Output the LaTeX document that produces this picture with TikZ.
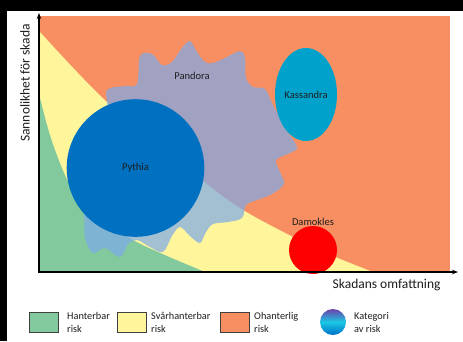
\documentclass[tikz,border=0pt]{standalone}
\usepackage{fontspec}
\setmainfont{Carlito}
\usepackage{xcolor}
\usetikzlibrary{arrows.meta,positioning,shapes.geometric}
\definecolor{riskgreen}{RGB}{130,201,157}
\definecolor{riskyellow}{RGB}{255,245,155}
\definecolor{riskorange}{RGB}{247,143,98}
\definecolor{pandoracol}{RGB}{125,170,235}
\definecolor{pythiacol}{RGB}{0,112,192}
\definecolor{kassandracol}{RGB}{0,162,204}
\definecolor{textgray}{RGB}{30,30,30}
\definecolor{legpurple}{RGB}{110,65,170}
\definecolor{legcyan}{RGB}{25,200,228}
\definecolor{legblue}{RGB}{0,110,200}
\tikzset{
  axisline/.style={line width=1.2pt, -{Stealth[length=6pt,width=4.5pt]}},
  axislabel/.style={font=\fontsize{13.5}{15}\selectfont, text=textgray},
  riskname/.style={font=\fontsize{10.5}{12}\selectfont, text=textgray},
  legbox/.style={draw=black!75, line width=0.8pt, minimum width=29pt, minimum height=20pt, inner sep=0pt},
  legtext/.style={font=\fontsize{10.3}{13}\selectfont, align=left, text=textgray, inner sep=0pt, anchor=west},
}

\begin{document}
\begin{tikzpicture}[x=1pt,y=-1pt]
  \useasboundingbox (0,0) rectangle (463,341);
  \fill[white] (0,0) rectangle (463,341);
  \fill[black] (0,0) rectangle (463,11);
  \fill[black] (0,0) rectangle (7,341);
  % Risk zones
  \fill[riskorange] (40,16) rectangle (450,272);
  \fill[riskyellow] plot[smooth] coordinates {(40,32) (107,102) (203,181) (243,210) (293,237) (333,256) (373,272)} -- (40,272) -- cycle;
  \fill[riskgreen] plot[smooth] coordinates {(40,98) (47,125) (55,150) (70,185) (95,215) (133,240) (167,256) (205,272)} -- (40,272) -- cycle;
  % Pandora
  \fill[pandoracol, fill opacity=0.7] plot[smooth cycle, tension=0.55] coordinates {
    (190,41) (197,52) (205,62) (213,63) (225,58) (240,51) (245,58) (246,78)
    (253,87) (265,89) (273,105) (285,128) (297,147) (290,153) (276,160) (280,172)
    (284,184) (272,194) (257,200) (246,205) (242,218) (228,222) (213,224) (206,232)
    (200,243) (190,236) (180,227) (172,236) (163,252) (150,247) (137,240) (128,244)
    (120,257) (105,248) (93,253) (85,238) (84,215) (80,180) (95,130) (107,110)
    (107,90) (125,86) (137,84) (140,56) (152,54) (162,65) (172,62) (182,48)};
  \node[riskname] (pandora) at (192,76) {Pandora};
  % Categories
  \node[circle, fill=pythiacol, minimum size=137.6pt, inner sep=0pt, riskname] (pythia) at (135.5,168) {Pythia};
  \node[ellipse, fill=kassandracol, minimum width=62pt, minimum height=93pt, inner sep=0pt, riskname] (kassandra) at (306,94.5) {Kassandra};
  \node[circle, fill=red, minimum size=48pt, inner sep=0pt] (damokles) at (313,250) {};
  \node[riskname, above=0pt of damokles, inner sep=0pt] (damoklesname) {Damokles};
  % Axes
  \coordinate (origin) at (39,272);
  \coordinate (ytop) at (39,13);
  \coordinate (xend) at (458,272);
  \draw[axisline] ([yshift=0.6pt]origin) -- (ytop);
  \draw[axisline] ([xshift=-0.6pt]origin) -- (xend);
  \node[axislabel, rotate=90] (ylabel) at (25,83) {Sannolikhet för skada};
  \node[axislabel, anchor=east] (xlabel) at (444,285) {Skadans omfattning};
  % Legend
  \foreach \x/\tx/\c/\t [count=\i] in {44/67/riskgreen/Hanterbar, 131.5/151/riskyellow/Svårhanterbar, 235/254/riskorange/Ohanterlig} {
    \node[legbox, fill=\c] (legbox\i) at (\x,322) {};
    \node[legtext] (legtext\i) at (\tx,322) {\t\\risk};
  }
  \node[circle, minimum size=26pt, inner sep=0pt, top color=legpurple, bottom color=legblue, middle color=legcyan] (catball) at (333,322) {};
  \node[legtext] (cattext) at (354,322) {Kategori\\av risk};
\end{tikzpicture}
\end{document}
